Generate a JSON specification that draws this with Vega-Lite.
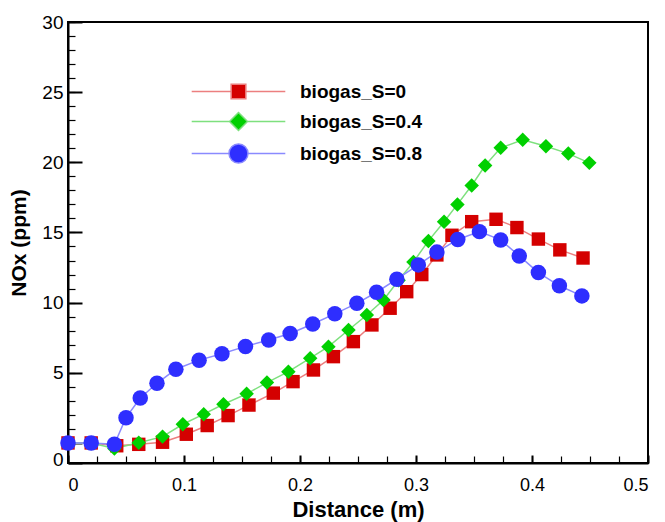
{
  "$schema": "https://vega.github.io/schema/vega-lite/v6.json",
  "width": 580,
  "height": 441,
  "autosize": {"type": "none"},
  "padding": {"left": 68, "top": 22, "right": 17, "bottom": 59},
  "background": "white",
  "config": {
    "view": {"stroke": "black", "strokeWidth": 2},
    "font": "Liberation Sans",
    "axis": {"grid": false, "labelFont": "Liberation Sans", "titleFont": "Liberation Sans", "labelColor": "black", "titleColor": "black", "domainColor": "black", "tickColor": "black"}
  },
  "data": {"values": [
    {"x": 0, "y": 0, "series": "biogas_S=0"},
    {"x": 0.02, "y": 0, "series": "biogas_S=0"},
    {"x": 0.042, "y": -0.2, "series": "biogas_S=0"},
    {"x": 0.061, "y": -0.1, "series": "biogas_S=0"},
    {"x": 0.0815, "y": 0.05, "series": "biogas_S=0"},
    {"x": 0.102, "y": 0.62, "series": "biogas_S=0"},
    {"x": 0.12, "y": 1.24, "series": "biogas_S=0"},
    {"x": 0.138, "y": 1.95, "series": "biogas_S=0"},
    {"x": 0.156, "y": 2.7, "series": "biogas_S=0"},
    {"x": 0.177, "y": 3.55, "series": "biogas_S=0"},
    {"x": 0.194, "y": 4.37, "series": "biogas_S=0"},
    {"x": 0.2116, "y": 5.2, "series": "biogas_S=0"},
    {"x": 0.2288, "y": 6.15, "series": "biogas_S=0"},
    {"x": 0.246, "y": 7.22, "series": "biogas_S=0"},
    {"x": 0.262, "y": 8.41, "series": "biogas_S=0"},
    {"x": 0.2777, "y": 9.6, "series": "biogas_S=0"},
    {"x": 0.292, "y": 10.78, "series": "biogas_S=0"},
    {"x": 0.305, "y": 12.0, "series": "biogas_S=0"},
    {"x": 0.318, "y": 13.4, "series": "biogas_S=0"},
    {"x": 0.331, "y": 14.8, "series": "biogas_S=0"},
    {"x": 0.348, "y": 15.77, "series": "biogas_S=0"},
    {"x": 0.369, "y": 15.94, "series": "biogas_S=0"},
    {"x": 0.387, "y": 15.35, "series": "biogas_S=0"},
    {"x": 0.4055, "y": 14.53, "series": "biogas_S=0"},
    {"x": 0.424, "y": 13.76, "series": "biogas_S=0"},
    {"x": 0.444, "y": 13.18, "series": "biogas_S=0"},
    {"x": 0, "y": 0, "series": "biogas_S=0.4"},
    {"x": 0.02, "y": 0, "series": "biogas_S=0.4"},
    {"x": 0.04, "y": -0.4, "series": "biogas_S=0.4"},
    {"x": 0.061, "y": 0.02, "series": "biogas_S=0.4"},
    {"x": 0.0815, "y": 0.45, "series": "biogas_S=0.4"},
    {"x": 0.099, "y": 1.33, "series": "biogas_S=0.4"},
    {"x": 0.117, "y": 2.05, "series": "biogas_S=0.4"},
    {"x": 0.134, "y": 2.76, "series": "biogas_S=0.4"},
    {"x": 0.154, "y": 3.5, "series": "biogas_S=0.4"},
    {"x": 0.1715, "y": 4.3, "series": "biogas_S=0.4"},
    {"x": 0.19, "y": 5.08, "series": "biogas_S=0.4"},
    {"x": 0.2088, "y": 6.04, "series": "biogas_S=0.4"},
    {"x": 0.2245, "y": 6.86, "series": "biogas_S=0.4"},
    {"x": 0.2418, "y": 8.05, "series": "biogas_S=0.4"},
    {"x": 0.2576, "y": 9.12, "series": "biogas_S=0.4"},
    {"x": 0.272, "y": 10.19, "series": "biogas_S=0.4"},
    {"x": 0.285, "y": 11.6, "series": "biogas_S=0.4"},
    {"x": 0.2978, "y": 12.9, "series": "biogas_S=0.4"},
    {"x": 0.3107, "y": 14.4, "series": "biogas_S=0.4"},
    {"x": 0.3242, "y": 15.77, "series": "biogas_S=0.4"},
    {"x": 0.3357, "y": 17.0, "series": "biogas_S=0.4"},
    {"x": 0.348, "y": 18.35, "series": "biogas_S=0.4"},
    {"x": 0.3596, "y": 19.77, "series": "biogas_S=0.4"},
    {"x": 0.373, "y": 21.03, "series": "biogas_S=0.4"},
    {"x": 0.392, "y": 21.6, "series": "biogas_S=0.4"},
    {"x": 0.412, "y": 21.15, "series": "biogas_S=0.4"},
    {"x": 0.4313, "y": 20.62, "series": "biogas_S=0.4"},
    {"x": 0.4494, "y": 19.96, "series": "biogas_S=0.4"},
    {"x": 0, "y": 0, "series": "biogas_S=0.8"},
    {"x": 0.02, "y": 0, "series": "biogas_S=0.8"},
    {"x": 0.04, "y": -0.1, "series": "biogas_S=0.8"},
    {"x": 0.05, "y": 1.8, "series": "biogas_S=0.8"},
    {"x": 0.0623, "y": 3.2, "series": "biogas_S=0.8"},
    {"x": 0.0767, "y": 4.25, "series": "biogas_S=0.8"},
    {"x": 0.093, "y": 5.25, "series": "biogas_S=0.8"},
    {"x": 0.113, "y": 5.9, "series": "biogas_S=0.8"},
    {"x": 0.1327, "y": 6.35, "series": "biogas_S=0.8"},
    {"x": 0.153, "y": 6.88, "series": "biogas_S=0.8"},
    {"x": 0.173, "y": 7.34, "series": "biogas_S=0.8"},
    {"x": 0.1915, "y": 7.8, "series": "biogas_S=0.8"},
    {"x": 0.211, "y": 8.48, "series": "biogas_S=0.8"},
    {"x": 0.23, "y": 9.2, "series": "biogas_S=0.8"},
    {"x": 0.249, "y": 9.95, "series": "biogas_S=0.8"},
    {"x": 0.266, "y": 10.74, "series": "biogas_S=0.8"},
    {"x": 0.2835, "y": 11.67, "series": "biogas_S=0.8"},
    {"x": 0.302, "y": 12.69, "series": "biogas_S=0.8"},
    {"x": 0.318, "y": 13.6, "series": "biogas_S=0.8"},
    {"x": 0.336, "y": 14.5, "series": "biogas_S=0.8"},
    {"x": 0.3547, "y": 15.06, "series": "biogas_S=0.8"},
    {"x": 0.373, "y": 14.47, "series": "biogas_S=0.8"},
    {"x": 0.389, "y": 13.33, "series": "biogas_S=0.8"},
    {"x": 0.4055, "y": 12.14, "series": "biogas_S=0.8"},
    {"x": 0.4236, "y": 11.2, "series": "biogas_S=0.8"},
    {"x": 0.443, "y": 10.48, "series": "biogas_S=0.8"}
  ]},
  "resolve": {
    "axis": {"x": "independent", "y": "independent"},
    "scale": {"shape": "independent", "color": "independent", "stroke": "independent"}
  },
  "layer": [
    {
      "mark": {"type": "line", "strokeWidth": 1.5},
      "encoding": {
        "x": {"field": "x", "type": "quantitative",
          "scale": {"domain": [0, 0.5], "nice": false, "zero": false},
          "axis": {"orient": "bottom", "values": [0, 0.1, 0.2, 0.3, 0.4, 0.5], "format": "~g",
            "tickSize": -8, "tickWidth": 2, "domainWidth": 2, "labelFontSize": 18, "labelPadding": 21,
            "title": "Distance (m)", "titleFontSize": 22, "titleFontWeight": "bold", "titlePadding": 5}},
        "y": {"field": "y", "type": "quantitative",
          "scale": {"domain": [-1.43, 30], "nice": false, "zero": false},
          "axis": {"orient": "left", "values": [-1.43, 0, 5, 10, 15, 20, 25, 30],
            "labelExpr": "datum.value < -1 ? '0' : (datum.value == 0 ? '' : datum.label)",
            "labelOffset": {"condition": {"test": "datum.value < -1", "value": -4}, "value": 0},
            "tickSize": -14, "tickWidth": 2, "domainWidth": 2, "labelFontSize": 19, "labelPadding": 19,
            "title": "NOx (ppm)", "titleFontSize": 21, "titleFontWeight": "bold", "titlePadding": 12}},
        "stroke": {"field": "series", "type": "nominal", "legend": null,
          "scale": {"range": ["#ec7f7f", "#7ee07e", "#8a8aff"]}},
        "detail": {"field": "series"}
      }
    },
    {
      "mark": {"type": "point", "filled": true, "opacity": 1, "strokeWidth": 0},
      "encoding": {
        "x": {"field": "x", "type": "quantitative",
          "axis": {"orient": "bottom", "values": [0, 0.025, 0.05, 0.075, 0.1, 0.125, 0.15, 0.175, 0.2, 0.225, 0.25, 0.275, 0.3, 0.325, 0.35, 0.375, 0.4, 0.425, 0.45, 0.475, 0.5],
            "labels": false, "domain": false, "title": null, "tickSize": -7, "tickWidth": 1.2}},
        "y": {"field": "y", "type": "quantitative",
          "axis": {"orient": "left", "values": [0, 1, 2, 3, 4, 5, 6, 7, 8, 9, 10, 11, 12, 13, 14, 15, 16, 17, 18, 19, 20, 21, 22, 23, 24, 25, 26, 27, 28, 29, 30],
            "labels": false, "domain": false, "title": null, "tickSize": -7, "tickWidth": 1.2}},
        "fill": {"field": "series", "type": "nominal", "legend": null,
          "scale": {"range": ["#d40000", "#00d000", "#2e2eff"]}},
        "shape": {"field": "series", "type": "nominal", "legend": null,
          "scale": {"range": ["square", "diamond", "circle"]}},
        "size": {"field": "series", "type": "nominal", "legend": null,
          "scale": {"range": [180, 240, 275]}}
      }
    },
    {
      "transform": [{"filter": "false"}],
      "mark": {"type": "point", "filled": true, "opacity": 1},
      "encoding": {
        "x": {"field": "x", "type": "quantitative", "axis": null},
        "y": {"field": "y", "type": "quantitative", "axis": null},
        "color": {"field": "series", "type": "nominal",
          "scale": {"domain": ["biogas_S=0", "biogas_S=0.4", "biogas_S=0.8"], "range": ["#d40000", "#00d000", "#2e2eff"]},
          "legend": {"title": null, "orient": "none", "legendX": 122, "legendY": 60,
            "symbolSize": 169, "symbolOffset": 39, "labelOffset": 52, "symbolStrokeWidth": 1.5,
            "labelFont": "Liberation Sans", "labelFontSize": 19, "labelFontWeight": "bold", "labelColor": "black",
            "rowPadding": 7}},
        "stroke": {"field": "series", "type": "nominal",
          "scale": {"domain": ["biogas_S=0", "biogas_S=0.4", "biogas_S=0.8"], "range": ["#ec7f7f", "#7ee07e", "#8a8aff"]},
          "legend": {"title": null, "orient": "none", "legendX": 122, "legendY": 60,
            "symbolSize": 169, "symbolOffset": 39, "labelOffset": 52, "symbolStrokeWidth": 1.5,
            "labelFont": "Liberation Sans", "labelFontSize": 19, "labelFontWeight": "bold", "labelColor": "black",
            "rowPadding": 7}},
        "shape": {"field": "series", "type": "nominal",
          "scale": {"domain": ["biogas_S=0", "biogas_S=0.4", "biogas_S=0.8"],
            "range": ["M-7.2,0H-1.13M1.13,0H7.2M-1.13,-1.13H1.13V1.13H-1.13Z",
                      "M-7.2,0H-1.38M1.38,0H7.2M0,-1.38L1.38,0L0,1.38L-1.38,0Z",
                      "M-7.2,0H-1.46M1.46,0H7.2M-1.46,0A1.46,1.46 0 1 1 1.46,0A1.46,1.46 0 1 1 -1.46,0Z"]},
          "legend": {"title": null, "orient": "none", "legendX": 122, "legendY": 60,
            "symbolSize": 169, "symbolOffset": 39, "labelOffset": 52, "symbolStrokeWidth": 1.5,
            "labelFont": "Liberation Sans", "labelFontSize": 19, "labelFontWeight": "bold", "labelColor": "black",
            "rowPadding": 7}}
      }
    }
  ]
}
